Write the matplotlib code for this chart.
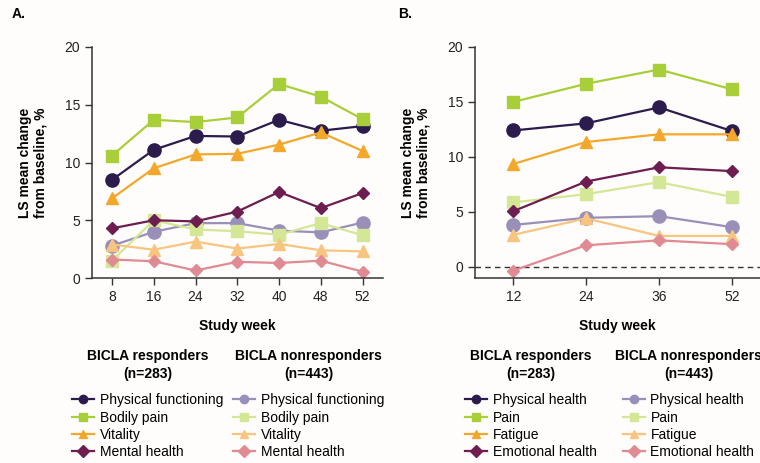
import numpy as np
import matplotlib.pyplot as plt

plt.rcParams['font.family'] = ['Liberation Sans', 'DejaVu Sans']

# --- data, panel A ---
weeks_a = [8, 16, 24, 32, 40, 48, 52]
a_resp = {
    'Physical functioning': [8.5, 11.1, 12.3, 12.25, 13.7, 12.75, 13.15],
    'Bodily pain': [10.6, 13.7, 13.5, 13.9, 16.8, 15.7, 13.75],
    'Vitality': [6.9, 9.5, 10.7, 10.75, 11.55, 12.6, 11.0],
    'Mental health': [4.3, 5.0, 4.9, 5.75, 7.45, 6.05, 7.35],
}
a_nonresp = {
    'Physical functioning': [2.8, 4.0, 4.75, 4.75, 4.1, 3.95, 4.8],
    'Bodily pain': [1.5, 5.0, 4.2, 4.05, 3.75, 4.75, 3.7],
    'Vitality': [2.9, 2.45, 3.15, 2.55, 2.95, 2.4, 2.3],
    'Mental health': [1.6, 1.45, 0.65, 1.4, 1.3, 1.5, 0.55],
}

# --- data, panel B ---
weeks_b = [12, 24, 36, 52]
b_resp = {
    'Physical health': [12.4, 13.05, 14.5, 12.35],
    'Pain': [15.0, 16.65, 17.95, 16.15],
    'Fatigue': [9.35, 11.35, 12.05, 12.05],
    'Emotional health': [5.05, 7.75, 9.05, 8.7],
}
b_nonresp = {
    'Physical health': [3.8, 4.45, 4.6, 3.6],
    'Pain': [5.85, 6.6, 7.7, 6.35],
    'Fatigue': [2.9, 4.4, 2.8, 2.8],
    'Emotional health': [-0.35, 1.95, 2.4, 2.05],
}

resp_colors = ['#2c1b4d', '#a8cf3a', '#f4a82b', '#6d1d4f']
nonresp_colors = ['#9a8fb8', '#d4e796', '#f8c580', '#e08a93']
markers = ['o', 's', '^', 'D']
msizes = [9.5, 8, 8, 6]

bg = '#fefdfb'
fig = plt.figure(figsize=(7.6, 4.63), dpi=100, facecolor=bg)

ax_a = fig.add_axes([92 / 760, 1 - 278 / 463, (383 - 92) / 760, 231 / 463])
ax_b = fig.add_axes([475 / 760, 1 - 278 / 463, (760 - 475) / 760, 231 / 463])


def draw(ax, weeks, resp, nonresp):
    # weeks are plotted as evenly spaced categories, like the original
    x = np.arange(len(weeks))
    ax.set_facecolor(bg)
    hr, hn = [], []
    for i, (name, vals) in enumerate(nonresp.items()):
        h, = ax.plot(x, vals, color=nonresp_colors[i], marker=markers[i],
                     ms=msizes[i], lw=1.6, label=name, zorder=2)
        hn.append(h)
    for i, (name, vals) in enumerate(resp.items()):
        h, = ax.plot(x, vals, color=resp_colors[i], marker=markers[i],
                     ms=msizes[i], lw=1.6, label=name, zorder=3)
        hr.append(h)
    for s in ['top', 'right']:
        ax.spines[s].set_visible(False)
    for s in ['left', 'bottom']:
        ax.spines[s].set_color('#333333')
        ax.spines[s].set_linewidth(1.1)
    ax.set_yticks([0, 5, 10, 15, 20])
    ax.set_xticks(x)
    ax.set_xticklabels([str(w) for w in weeks])
    ax.tick_params(direction='out', length=5, width=1, colors='#333333',
                   labelsize=10, labelcolor='#222222')
    ax.set_xlabel('Study week', fontsize=10, fontweight='bold', labelpad=11)
    ax.set_ylabel('LS mean change\nfrom baseline, %', fontsize=10,
                  fontweight='bold', labelpad=12)
    return hr, hn


hr_a, hn_a = draw(ax_a, weeks_a, a_resp, a_nonresp)
ax_a.set_xlim(-0.48, 6.49)
ax_a.set_ylim(0, 20)

hr_b, hn_b = draw(ax_b, weeks_b, b_resp, b_nonresp)
ax_b.set_xlim(-0.525, 3.385)
ax_b.set_ylim(-1.03, 20)
ax_b.axhline(0, color='#333333', lw=1, ls=(0, (4, 3)), zorder=1)

fig.text(12 / 760, 1 - 14 / 463, 'A.', fontsize=10, fontweight='bold', va='center')
fig.text(398 / 760, 1 - 14 / 463, 'B.', fontsize=10, fontweight='bold', va='center')


def add_legend(handles, x, title):
    leg = fig.legend(handles=handles, loc='upper left', bbox_to_anchor=(x / 760, 1 - 349 / 463),
                     frameon=False, fontsize=10, title=title,
                     title_fontproperties={'weight': 'bold', 'size': 10},
                     handlelength=1.6, handletextpad=0.4, labelspacing=0.24,
                     borderaxespad=0, borderpad=0)
    leg._legend_box.align = 'center'
    leg._legend_box.sep = 9
    leg.get_title().set_multialignment('center')
    leg.get_title().set_linespacing(1.35)
    for h in leg.legend_handles:
        h.set_markersize(6)
    return leg


add_legend(hr_a, 72, 'BICLA responders\n(n=283)')
add_legend(hn_a, 233, 'BICLA nonresponders\n(n=443)')
add_legend(hr_b, 465, 'BICLA responders\n(n=283)')
add_legend(hn_b, 615, 'BICLA nonresponders\n(n=443)')

fig.savefig('out.png', dpi=100, facecolor=bg)
